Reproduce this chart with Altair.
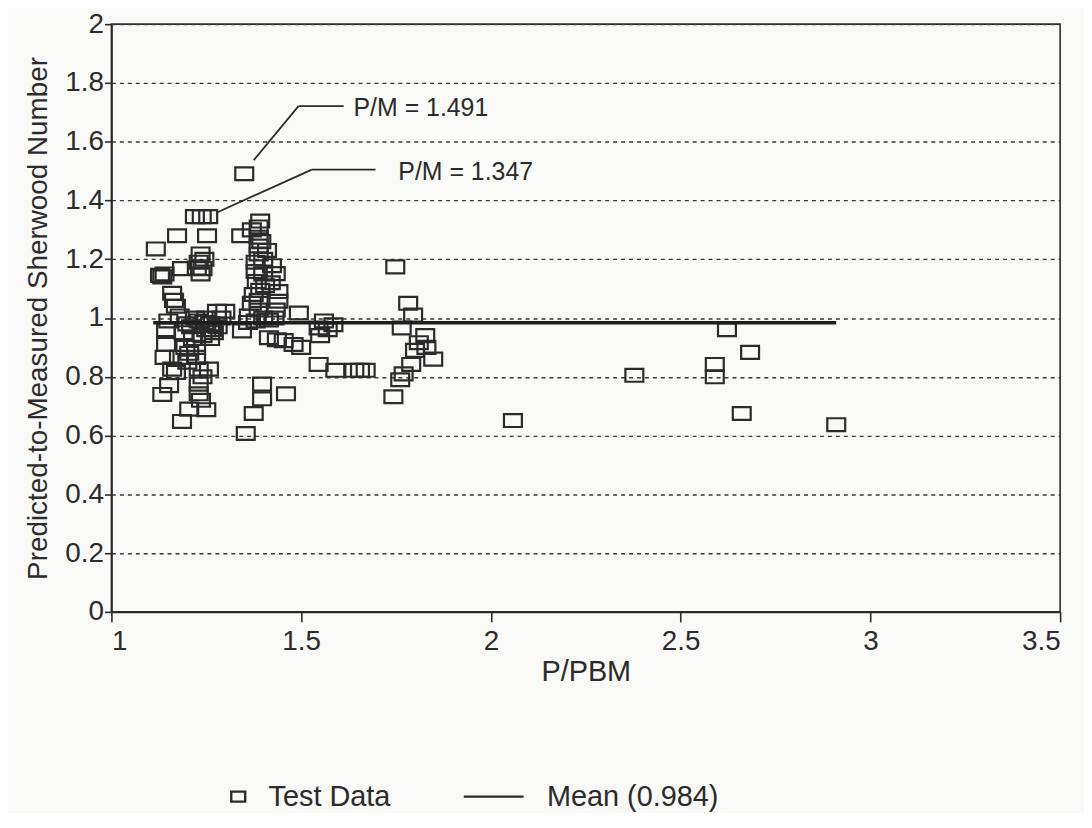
import altair as alt
import pandas as pd

# ---- data ----
pm_x = [
    # cluster x 1.10-1.20
    1.117, 1.128, 1.134, 1.140, 1.160, 1.165, 1.170, 1.173, 1.186, 1.180,
    1.144, 1.144, 1.140, 1.178, 1.160, 1.152, 1.134, 1.186, 1.200, 1.190,
    1.205, 1.170, 1.150, 1.195,
    # cluster x 1.20-1.30
    1.220, 1.238, 1.255, 1.252, 1.235, 1.230, 1.240, 1.235, 1.245, 1.225,
    1.278, 1.223, 1.223, 1.257, 1.230, 1.230, 1.230, 1.236, 1.250, 1.210,
    1.230, 1.250, 1.260, 1.270, 1.240, 1.215, 1.260, 1.280, 1.290, 1.250,
    1.220, 1.200, 1.240, 1.265, 1.245, 1.205,
    # cluster x 1.33-1.50
    1.350, 1.342, 1.388, 1.392, 1.388, 1.388, 1.388, 1.380, 1.423, 1.380,
    1.433, 1.383, 1.440, 1.392, 1.388, 1.440, 1.388, 1.433, 1.494, 1.362,
    1.415, 1.344, 1.415, 1.454, 1.480, 1.500, 1.436, 1.397, 1.397, 1.460,
    1.375, 1.354, 1.400, 1.370, 1.410, 1.420, 1.400, 1.370, 1.400, 1.430,
    1.380, 1.300, 1.360, 1.395, 1.405, 1.375,
    # x 1.5-1.7
    1.546, 1.585, 1.550, 1.546, 1.590, 1.640, 1.655, 1.670, 1.560, 1.570,
    # x 1.74-1.85
    1.748, 1.782, 1.795, 1.765, 1.827, 1.810, 1.800, 1.848, 1.790, 1.770,
    1.761, 1.743, 1.830,
    # sparse right part
    2.058, 2.378, 2.590, 2.590, 2.622, 2.683, 2.661, 2.910,
]
pm_y = [
    1.235, 1.145, 1.140, 1.150, 1.084, 1.060, 1.040, 1.280, 1.168, 1.007,
    0.960, 0.910, 0.866, 0.866, 0.826, 0.770, 0.740, 0.648, 0.980, 0.950,
    0.690, 0.815, 0.990, 0.900,
    1.345, 1.345, 1.345, 1.280, 1.218, 1.190, 1.168, 1.150, 1.200, 1.170,
    1.023, 0.900, 0.866, 0.826, 0.826, 0.775, 0.742, 0.720, 0.688, 0.970,
    0.990, 0.960, 0.980, 0.950, 0.940, 0.930, 0.930, 0.970, 1.000, 1.000,
    1.000, 0.850, 0.800, 0.960, 0.985, 0.880,
    1.491, 1.280, 1.310, 1.330, 1.275, 1.245, 1.218, 1.190, 1.178, 1.158,
    1.151, 1.124, 1.090, 1.094, 1.060, 1.057, 1.027, 1.027, 1.017, 1.007,
    0.993, 0.956, 0.933, 0.923, 0.910, 0.900, 0.926, 0.775, 0.725, 0.742,
    0.675, 0.607, 1.200, 1.300, 1.230, 1.120, 1.150, 1.050, 1.000, 1.000,
    0.990, 1.023, 0.985, 1.260, 1.110, 1.080,
    0.966, 0.977, 0.940, 0.842, 0.822, 0.822, 0.822, 0.822, 0.990, 0.960,
    1.174, 1.050, 1.010, 0.966, 0.940, 0.916, 0.890, 0.860, 0.842, 0.810,
    0.790, 0.732, 0.900,
    0.651, 0.805, 0.842, 0.800, 0.960, 0.883, 0.675, 0.637,
]
mean_x = [1.11, 2.91]
mean_y = [0.984, 0.984]

# annotation leaders (data coordinates) and labels
lead_x1 = [1.375, 1.493, 1.278, 1.528]
lead_y1 = [1.537, 1.721, 1.359, 1.505]
lead_x2 = [1.493, 1.612, 1.528, 1.696]
lead_y2 = [1.721, 1.721, 1.505, 1.505]
note_x = [1.638, 1.756]
note_y = [1.716, 1.497]
note_text = ["P/M = 1.491", "P/M = 1.347"]

x_ticks = [1, 1.5, 2, 2.5, 3, 3.5]
y_ticks = [0, 0.2, 0.4, 0.6, 0.8, 1.0, 1.2, 1.4, 1.6, 1.8, 2.0]

series_names = ["Test Data", "Mean (0.984)"]

INK = "#2b2b2b"
FONT = "Liberation Sans"
SQUARE = "M-1,-0.72H1V0.72H-1Z"
LINE_SYM = "M-7.6,0H1"

pts = pd.DataFrame({"x": pm_x, "y": pm_y, "series": "Test Data"})
mean_df = pd.DataFrame({"x": mean_x, "y": mean_y})
lead_df = pd.DataFrame({"x": lead_x1, "y": lead_y1, "x2": lead_x2, "y2": lead_y2})
note_df = pd.DataFrame({"x": note_x, "y": note_y, "t": note_text})

xs = alt.Scale(domain=[1, 3.5], nice=False, zero=False)
ys = alt.Scale(domain=[0, 2], nice=False, zero=False)

x_axis = alt.Axis(values=x_ticks, format="~g", grid=False, title="P/PBM",
                  tickSize=10, labelPadding=6, titlePadding=2,
                  labelFontSize=28, titleFontSize=29)
y_axis = alt.Axis(values=y_ticks, format="~g", grid=True, gridDash=[4, 4],
                  gridColor="#3a3a3a", gridWidth=1.4,
                  title="Predicted-to-Measured Sherwood Number",
                  tickSize=7, labelPadding=1, titlePadding=12,
                  labelFontSize=28, titleFontSize=28)

points = alt.Chart(pts).mark_point(filled=False, size=324, strokeWidth=2.2,
                                   color=INK, opacity=1).encode(
    x=alt.X("x:Q", scale=xs, axis=x_axis),
    y=alt.Y("y:Q", scale=ys, axis=y_axis),
    shape=alt.Shape("series:N",
                    scale=alt.Scale(domain=series_names, range=[SQUARE, LINE_SYM]),
                    legend=alt.Legend(title=None, orient="none", direction="horizontal",
                                      legendX=113, legendY=762,
                                      symbolSize=196, symbolStrokeWidth=2.4,
                                      symbolStrokeColor=INK, symbolFillColor="transparent",
                                      labelFontSize=29, labelFont=FONT, labelColor=INK,
                                      labelLimit=0, labelOffset=16, columnPadding=68)),
)

mean_line = alt.Chart(mean_df).mark_line(color="#1e1e1e", strokeWidth=3.4).encode(
    x=alt.X("x:Q", scale=xs), y=alt.Y("y:Q", scale=ys)
)

leaders = alt.Chart(lead_df).mark_rule(color=INK, strokeWidth=1.8).encode(
    x=alt.X("x:Q", scale=xs), y=alt.Y("y:Q", scale=ys),
    x2="x2:Q", y2="y2:Q",
)

notes = alt.Chart(note_df).mark_text(align="left", baseline="middle", fontSize=25,
                                      font=FONT, color=INK).encode(
    x=alt.X("x:Q", scale=xs), y=alt.Y("y:Q", scale=ys), text="t:N"
)

chart = alt.layer(points, mean_line, leaders, notes).properties(
    width=954, height=591,
    autosize=alt.AutoSizeParams(type="none"),
    padding={"left": 104, "top": 14, "right": 24, "bottom": 200},
    background="#f9f9f7",
).configure_view(
    stroke=INK, strokeWidth=1.6, fill="#f9f9f7"
).configure_axis(
    labelFont=FONT, titleFont=FONT, labelColor=INK, titleColor=INK,
    titleFontWeight="normal", domainColor=INK, domainWidth=1.8,
    tickColor=INK, tickWidth=1.6,
)

chart.save("out.html", embed_options={"renderer": "svg", "actions": False})
